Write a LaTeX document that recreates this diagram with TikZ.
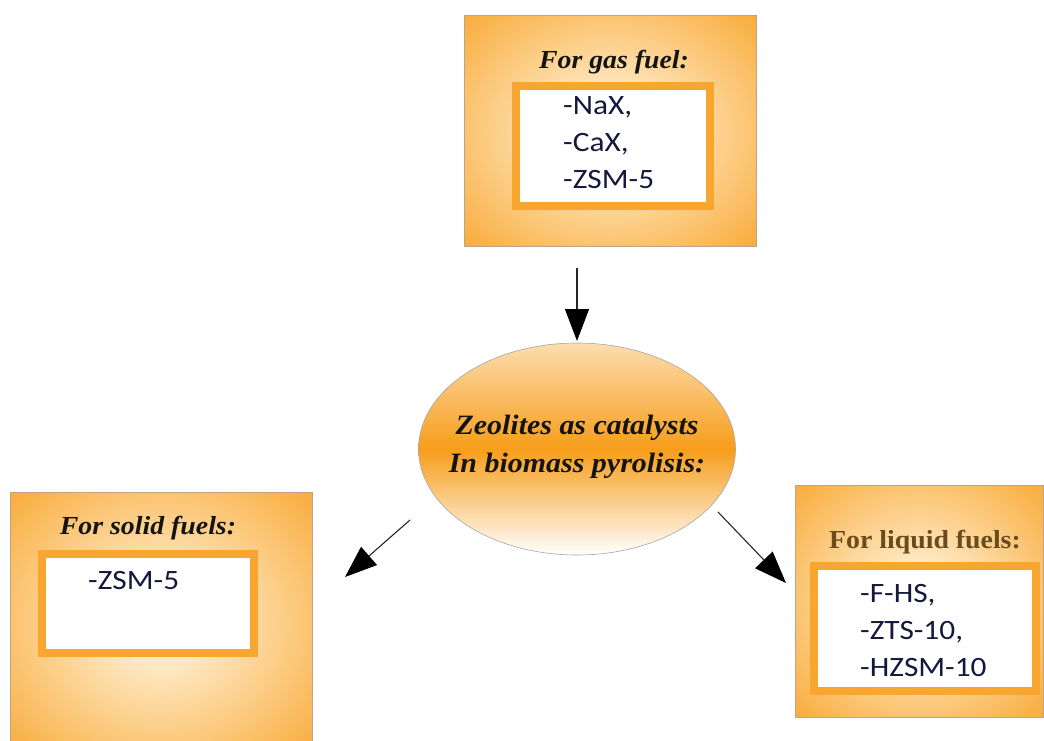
\documentclass[tikz,border=0pt]{standalone}
\usepackage{fontspec}
\setmainfont{Liberation Serif}[FakeStretch=1.07]
\newfontfamily\itemfont{Carlito}[FakeStretch=1.12]
\usetikzlibrary{arrows.meta,shapes.geometric}

\definecolor{boxorange}{RGB}{247,157,26}
\definecolor{boxlight}{RGB}{255,233,196}
\definecolor{frameorange}{RGB}{249,166,48}
\definecolor{itemblue}{RGB}{20,24,60}
\definecolor{liquidbrown}{RGB}{105,75,30}
\definecolor{edgegray}{RGB}{185,165,140}

\pgfdeclareradialshading{boxshade}{\pgfpoint{0bp}{0bp}}{%
  color(0bp)=(boxlight); color(8bp)=(boxlight); color(42bp)=(boxorange); color(50bp)=(boxorange)}

\tikzset{
  fuelbox/.style={draw=edgegray, line width=0.6pt, shading=boxshade, inner sep=0pt},
  listframe/.style={draw=frameorange, fill=white, line width=8pt, inner sep=0pt},
  boxtitle/.style={font=\fontsize{26}{30}\selectfont\bfseries\itshape, text=black!92},
  itemlist/.style={font=\itemfont\fontsize{28}{37}\selectfont, text=itemblue, align=left, anchor=west, inner sep=0pt},
  catarrow/.style={draw=black!85, line width=1.1pt, -{Triangle[length=32pt,width=24pt,color=black]}}
}

\begin{document}
\begin{tikzpicture}[x=1pt,y=-1pt]
  \useasboundingbox (0,0) rectangle (1044,740);

  % gas fuel box
  \node[fuelbox, minimum width=292pt, minimum height=231pt] (gas) at (610,130.5) {};
  \node[boxtitle] (gastitle) at (614,62) {For gas fuel:};
  \node[listframe, minimum width=194pt, minimum height=120pt] (gasframe) at (613,146) {};
  \node[itemlist] (gaslist) at (563,143) {-NaX,\\-CaX,\\-ZSM-5};

  % centre ellipse
  \node[ellipse, draw=black!35, line width=0.6pt, minimum width=317pt, minimum height=212pt,
        top color=boxorange!35, bottom color=white, middle color=boxorange] (zeo) at (577,449) {};
  \node[boxtitle, font=\fontsize{28}{38}\selectfont\bfseries\itshape, align=center] (zeotext) at (577,447)
    {Zeolites as catalysts\\In biomass pyrolisis:};

  % solid fuel box
  \node[fuelbox, minimum width=302pt, minimum height=262pt] (solid) at (161,623) {};
  \node[boxtitle] (solidtitle) at (148,528) {For solid fuels:};
  \node[listframe, minimum width=212pt, minimum height=99pt] (solidframe) at (148,603.5) {};
  \node[itemlist] (solidlist) at (88,580) {-ZSM-5};

  % liquid fuel box
  \node[fuelbox, minimum width=248pt, minimum height=232pt] (liquid) at (919,601) {};
  \node[boxtitle, font=\fontsize{26}{30}\selectfont\bfseries, text=liquidbrown] (liquidtitle) at (925,542) {For liquid fuels:};
  \node[listframe, minimum width=222pt, minimum height=125pt] (liquidframe) at (925,628.5) {};
  \node[itemlist] (liquidlist) at (860,630) {-F-HS,\\-ZTS-10,\\-HZSM-10};

  % arrows
  \coordinate (gasout) at (577,268);
  \coordinate (zeotop) at (577,341);
  \coordinate (zeoleft) at (410,520);
  \coordinate (solidin) at (345,577);
  \coordinate (zeoright) at (718,512);
  \coordinate (liquidin) at (786,583);
  \draw[catarrow] (gasout) -- (zeotop);
  \draw[catarrow] (zeoleft) -- (solidin);
  \draw[catarrow] (zeoright) -- (liquidin);
\end{tikzpicture}
\end{document}
